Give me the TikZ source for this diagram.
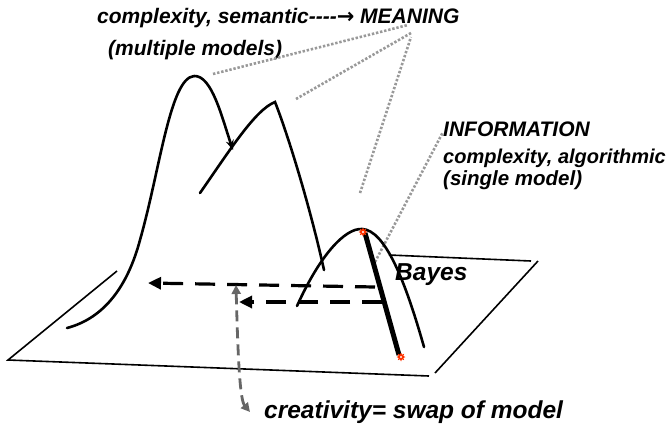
\documentclass[tikz,border=0pt]{standalone}
\usepackage{fontspec}
\setmainfont{Liberation Sans}
\newfontfamily\arrowfont{DejaVu Sans}
\usetikzlibrary{arrows.meta,shapes.geometric}
\definecolor{dotgray}{HTML}{999999}
\definecolor{dashgray}{HTML}{666666}
\definecolor{starred}{HTML}{FF3300}
\begin{document}
\begin{tikzpicture}[x=1pt,y=-1pt,
  lbl/.style={font=\fontsize{21}{23}\selectfont\bfseries\itshape, inner sep=0pt, anchor=west},
  biglbl/.style={lbl, font=\fontsize{24.5}{26}\selectfont\bfseries\itshape},
  curve/.style={line width=2.6pt, line cap=round},
  planeedge/.style={line width=1.6pt},
  dotline/.style={dotgray, line width=2.6pt, dash pattern=on 2.4pt off 1.8pt},
  blackdash/.style={line width=3.2pt, dash pattern=on 20pt off 12pt, -{Triangle[length=13pt,width=12pt]}},
  graydash/.style={dashgray, line width=2.8pt, dash pattern=on 11pt off 6pt, {Triangle[length=9pt,width=9pt]}-{Triangle[length=9pt,width=9pt]}},
  redstar/.style={star, star points=8, star point ratio=1.8, draw=starred, fill=white, line width=1.2pt, inner sep=0pt, minimum size=6pt}]
\useasboundingbox (0,0) rectangle (666,426);
% texts
\node[lbl] (top) at (97,18) {complexity, semantic-{}-{}-{}-{\arrowfont\bfseries →} MEANING};
\node[lbl] (multi) at (108,50) {(multiple models)};
\node[lbl] (info) at (443,129) {INFORMATION};
\node[lbl, font=\fontsize{20}{22}\selectfont\bfseries\itshape] (algo) at (443,158) {complexity, algorithmic};
\node[lbl, font=\fontsize{20.5}{22}\selectfont\bfseries\itshape] (single) at (443,180) {(single model)};
\node[biglbl] (bayes) at (395,275) {Bayes};
\node[biglbl] (creat) at (264,412) {creativity= swap of model};
% plane
\coordinate (pbl) at (8,360);
\coordinate (pl) at (117,271);
\coordinate (pbr) at (429,376);
\coordinate (prb) at (435,373);
\coordinate (prt) at (538,261);
\coordinate (ptl) at (389,255);
\coordinate (ptr) at (531,261);
\draw[planeedge] (pl) -- (pbl) -- (pbr);
\draw[planeedge] (prb) -- (prt);
\draw[planeedge] (ptl) -- (ptr);
% dotted lines
\coordinate (m1) at (408,25);
\coordinate (m2) at (411,33);
\coordinate (m3) at (411,37);
\coordinate (d1) at (213,74);
\coordinate (d2) at (296,99);
\coordinate (d3) at (360,193);
\coordinate (d4) at (375,262);
\coordinate (i1) at (443,132);
\draw[dotline] (d1) -- (m1);
\draw[dotline] (d2) -- (m2);
\draw[dotline] (d3) -- (m3);
\draw[dotline] (d4) -- (i1);
% big peak
\coordinate (h0) at (67,328);
\coordinate (h1) at (140,240);
\coordinate (ptop) at (194,76);
\coordinate (parr) at (233,150);
\draw[curve] (h0) .. controls (105,318) and (128,285) .. (h1)
  .. controls (160,170) and (170,78) .. (ptop);
\draw[line width=2.6pt, -{Stealth[length=10pt,width=8pt]}] (ptop) .. controls (212,75) and (222,118) .. (parr);
% second peak
\coordinate (s0) at (200,193);
\coordinate (stop) at (275,102);
\coordinate (s1) at (324,270);
\draw[curve] (s0) .. controls (230,150) and (255,110) .. (stop)
  .. controls (290,140) and (312,215) .. (s1);
% small peak
\coordinate (k0) at (297,306);
\coordinate (ktop) at (362,229);
\coordinate (k1) at (424,347);
\draw[curve] (k0) .. controls (320,255) and (345,228) .. (ktop)
  .. controls (385,230) and (405,280) .. (k1);
% thick line
\coordinate (t0) at (365,233);
\coordinate (t1) at (399,355);
\draw[line width=5pt] (t0) -- (t1);
\node[redstar] (st1) at (363,232) {};
\node[redstar] (st2) at (401,357) {};
% black dashed arrows
\coordinate (u0) at (375,287);
\coordinate (u1) at (148,283);
\coordinate (l0) at (382,302);
\coordinate (l1) at (239,302);
\draw[blackdash] (u0) -- (u1);
\draw[blackdash] (l0) -- (l1);
% gray dashed arrow
\coordinate (g0) at (236,285);
\coordinate (g1) at (250,412);
\draw[graydash] (g0) .. controls (238,360) and (240,400) .. (g1);
\end{tikzpicture}
\end{document}
